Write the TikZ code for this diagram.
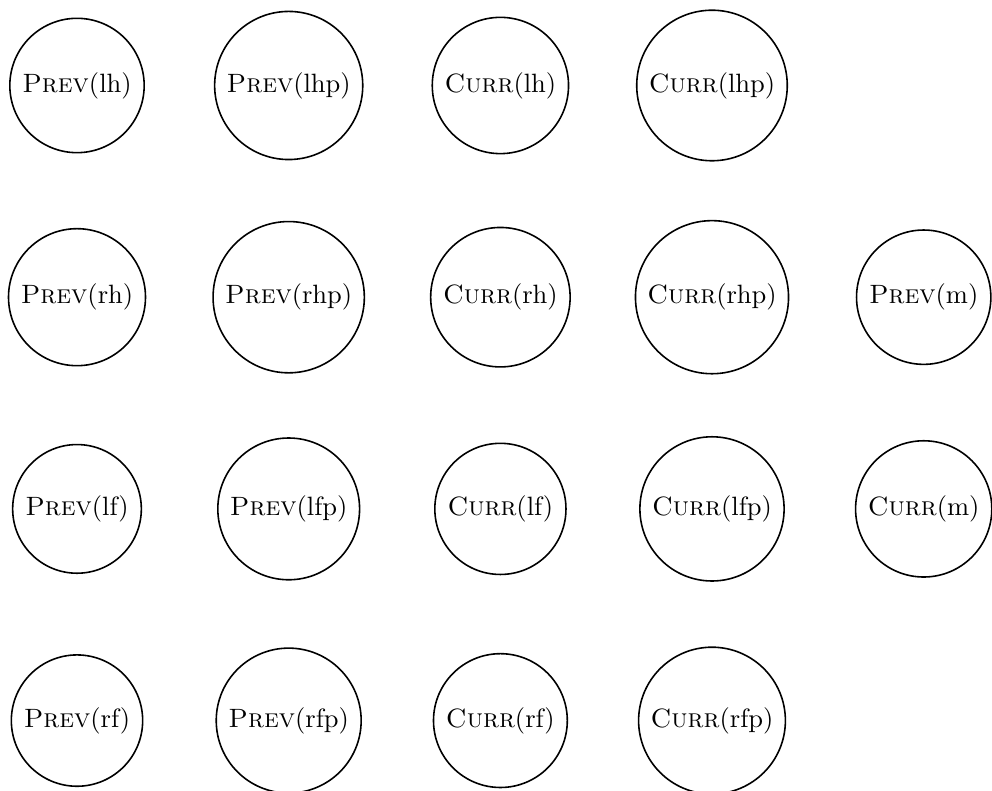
\documentclass[tikz,border=0pt]{standalone}
\begin{document}
\begin{tikzpicture}[x=0.3774pt, y=-0.3774pt,
  vnode/.style={circle, draw, line width=0.6pt, inner sep=0.3333em}]
\useasboundingbox (0,0) rectangle (992,791);
% row 1
\node[vnode] (prevlh)  at (77,85.5)    {\textsc{Prev}(lh)};
\node[vnode] (prevlhp) at (288.7,85.5) {\textsc{Prev}(lhp)};
\node[vnode] (currlh)  at (500.4,85.5) {\textsc{Curr}(lh)};
\node[vnode] (currlhp) at (712,85.5)   {\textsc{Curr}(lhp)};
% row 2
\node[vnode] (prevrh)  at (77,297.2)    {\textsc{Prev}(rh)};
\node[vnode] (prevrhp) at (288.7,297.2) {\textsc{Prev}(rhp)};
\node[vnode] (currrh)  at (500.4,297.2) {\textsc{Curr}(rh)};
\node[vnode] (currrhp) at (712,297.2)   {\textsc{Curr}(rhp)};
\node[vnode] (prevm)   at (923.7,297.2) {\textsc{Prev}(m)};
% row 3
\node[vnode] (prevlf)  at (77,508.9)    {\textsc{Prev}(lf)};
\node[vnode] (prevlfp) at (288.7,508.9) {\textsc{Prev}(lfp)};
\node[vnode] (currlf)  at (500.4,508.9) {\textsc{Curr}(lf)};
\node[vnode] (currlfp) at (712,508.9)   {\textsc{Curr}(lfp)};
\node[vnode] (currm)   at (923.7,508.9) {\textsc{Curr}(m)};
% row 4
\node[vnode] (prevrf)  at (77,720.6)    {\textsc{Prev}(rf)};
\node[vnode] (prevrfp) at (288.7,720.6) {\textsc{Prev}(rfp)};
\node[vnode] (currrf)  at (500.4,720.6) {\textsc{Curr}(rf)};
\node[vnode] (currrfp) at (712,720.6)   {\textsc{Curr}(rfp)};
\end{tikzpicture}
\end{document}
